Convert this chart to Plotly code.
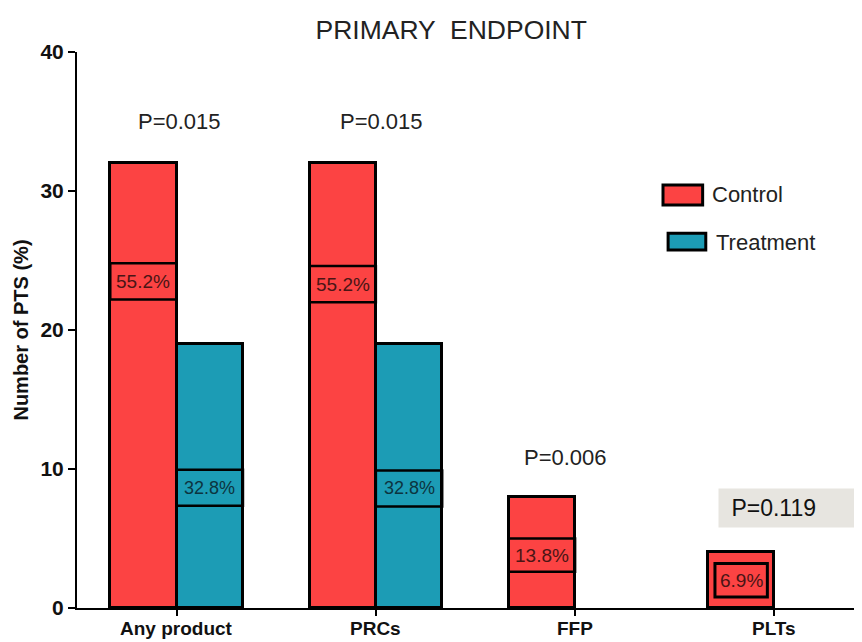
import plotly.graph_objects as go

categories = ["Any product", "PRCs", "FFP", "PLTs"]
control = [32, 32, 8, 4]
treatment = [19, 19, None, None]
control_pct = ["55.2%", "55.2%", "13.8%", "6.9%"]
treatment_pct = ["32.8%", "32.8%", None, None]
p_values = ["P=0.015", "P=0.015", "P=0.006", "P=0.119"]

RED = "#FC4343"
TEAL = "#1C9CB5"
W = 0.333
FONT = "Liberation Sans, Arial, sans-serif"

xs = list(range(len(categories)))

fig = go.Figure()
fig.add_trace(go.Bar(x=xs, y=control, width=W, offset=-W, name="Control",
                     marker=dict(color=RED, line=dict(color="black", width=3)),
                     showlegend=False))
fig.add_trace(go.Bar(x=xs, y=treatment, width=W, offset=0, name="Treatment",
                     marker=dict(color=TEAL, line=dict(color="black", width=3)),
                     showlegend=False))

# label boxes (centre heights, styling positions)
ctrl_label_y = [23.5, 23.3, 3.8, 2.0]
ctrl_box_h = [2.6, 2.6, 2.4, 2.4]
ctrl_inset = [0, 0, 0, 0.035]
treat_label_y = [8.65, 8.6]

shapes = []
annotations = []
for i, c in enumerate(xs):
    if control_pct[i]:
        y0 = ctrl_label_y[i] - ctrl_box_h[i] / 2
        y1 = ctrl_label_y[i] + ctrl_box_h[i] / 2
        shapes.append(dict(type="rect", xref="x", yref="y",
                           x0=c - W + ctrl_inset[i], x1=c - ctrl_inset[i], y0=y0, y1=y1,
                           line=dict(color="black", width=2.5 if ctrl_inset[i] == 0 else 3),
                           fillcolor="rgba(0,0,0,0)"))
        annotations.append(dict(x=c - W / 2, y=ctrl_label_y[i], xref="x", yref="y",
                                text=control_pct[i], showarrow=False,
                                font=dict(family=FONT, size=19, color="#4a1515")))
    if i < len(treatment_pct) and treatment_pct[i]:
        y0 = treat_label_y[i] - 1.3
        y1 = treat_label_y[i] + 1.3
        shapes.append(dict(type="rect", xref="x", yref="y",
                           x0=c, x1=c + W, y0=y0, y1=y1,
                           line=dict(color="black", width=2.5),
                           fillcolor="rgba(0,0,0,0)"))
        annotations.append(dict(x=c + W / 2, y=treat_label_y[i], xref="x", yref="y",
                                text=treatment_pct[i], showarrow=False,
                                font=dict(family=FONT, size=18, color="#0c3440")))

# category labels under the axis (as annotations to control their offset)
for i, name in enumerate(categories):
    annotations.append(dict(x=xs[i], y=0, xref="x", yref="y", text=name, showarrow=False,
                            yanchor="top", yshift=-8,
                            font=dict(family=FONT, size=19, color="#111", weight="bold")))

# p-value annotations
p_pos = [(0.015, 35.0), (0.03, 35.0), (-0.05, 10.8), (0.06, 7.2)]
for i, txt in enumerate(p_values):
    dx, yy = p_pos[i]
    a = dict(x=xs[i] + dx, y=yy, xref="x", yref="y", text=txt, showarrow=False,
             font=dict(family=FONT, size=22, color="#222222"))
    if i == 3:
        a.update(bgcolor="#E7E5E0", borderpad=6, font=dict(family=FONT, size=23, color="#111111"))
        a["text"] = "&nbsp;" + txt + "&nbsp;&nbsp;&nbsp;&nbsp;&nbsp;"
    annotations.append(a)

# custom legend
shapes.append(dict(type="rect", xref="paper", yref="paper", x0=0.7465, x1=0.797, y0=0.725, y1=0.761,
                   fillcolor=RED, line=dict(color="black", width=3)))
shapes.append(dict(type="rect", xref="paper", yref="paper", x0=0.753, x1=0.801, y0=0.644, y1=0.674,
                   fillcolor=TEAL, line=dict(color="black", width=3)))
annotations.append(dict(x=0.807, y=0.743, xref="paper", yref="paper", text="Control",
                        xanchor="left", yanchor="middle", showarrow=False,
                        font=dict(family=FONT, size=22, color="#222")))
annotations.append(dict(x=0.812, y=0.658, xref="paper", yref="paper", text="Treatment",
                        xanchor="left", yanchor="middle", showarrow=False,
                        font=dict(family=FONT, size=22, color="#222")))

fig.update_layout(
    width=854, height=634,
    margin=dict(l=69, r=0, t=44, b=34, autoexpand=False),
    paper_bgcolor="white", plot_bgcolor="white",
    title=dict(text="PRIMARY  ENDPOINT", x=0.519, xanchor="center", y=0.965, yanchor="middle",
               font=dict(family=FONT, size=26.5, color="#222"), automargin=False),
    shapes=shapes, annotations=annotations,
    bargap=0,
)
fig.update_xaxes(range=[-0.5, 3.44], tickvals=xs, showticklabels=False,
                 showline=True, linecolor="black", linewidth=2,
                 ticks="outside", ticklen=6, tickwidth=2, tickcolor="black",
                 showgrid=False, zeroline=False, automargin=False)
fig.update_yaxes(range=[0, 40], tickvals=[0, 10, 20, 30, 40],
                 showline=True, linecolor="black", linewidth=2,
                 ticks="outside", ticklen=7, tickwidth=2, tickcolor="black",
                 showgrid=False, zeroline=False, automargin=False,
                 title=dict(text="Number of PTS (%)", font=dict(family=FONT, size=20, color="#111", weight="bold"), standoff=6),
                 tickfont=dict(family=FONT, size=21, color="#111", weight="bold"))

fig.write_html("out.html")
